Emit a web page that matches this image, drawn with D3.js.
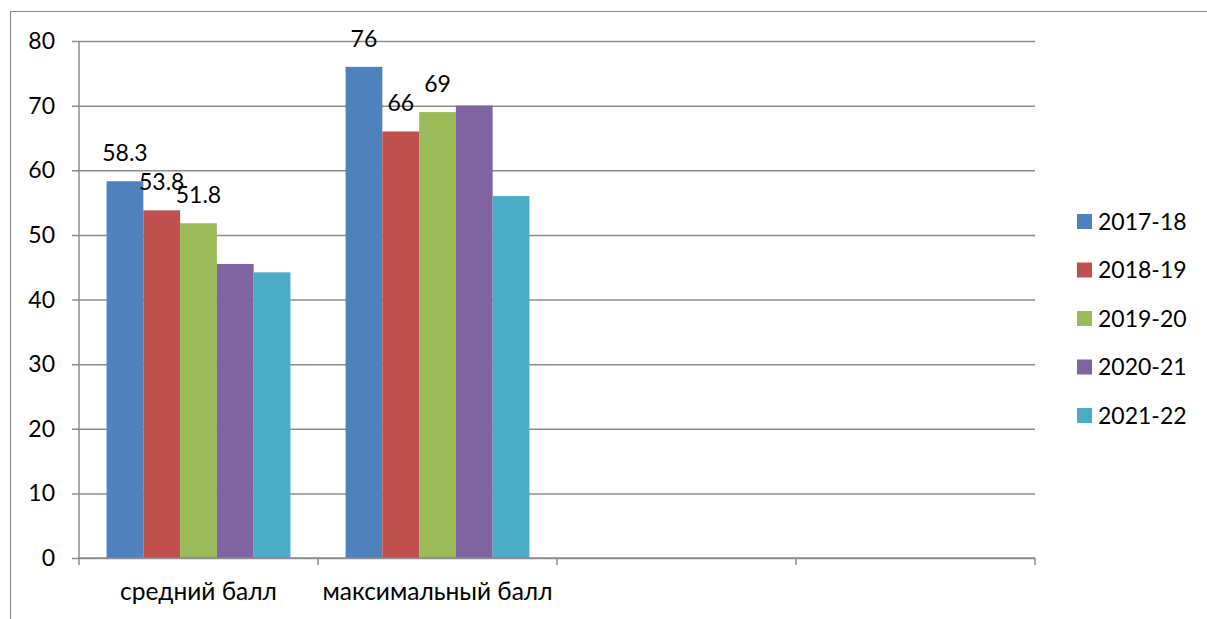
<!DOCTYPE html>
<html>
<head>
<meta charset="utf-8">
<script src="https://cdn.jsdelivr.net/npm/d3@7"></script>
<style>
  html, body { margin: 0; padding: 0; background: #fff; }
  svg { display: block; }
  text { font-family: Lato, "Open Sans", "Noto Sans", sans-serif; font-size: 23px; fill: #000; }
  text.cat { font-size: 24.5px; }
</style>
</head>
<body>
<svg id="chart" width="1207" height="619"></svg>
<script>
// ---- data ----
const categories = ["средний балл", "максимальный балл", "", ""];
const seriesNames = ["2017-18", "2018-19", "2019-20", "2020-21", "2021-22"];
const s2017 = [58.3, 76];
const s2018 = [53.8, 66];
const s2019 = [51.8, 69];
const s2020 = [45.5, 70];
const s2021 = [44.2, 56];
const seriesValues = [s2017, s2018, s2019, s2020, s2021];
const labeledSeries = ["2017-18", "2018-19", "2019-20"];
const yTicks = [0, 10, 20, 30, 40, 50, 60, 70, 80];
const colors = ["#4F81BD", "#C0504D", "#9BBB59", "#8064A2", "#4BACC6"];

// ---- layout ----
const W = 1207, H = 619;
const plot = { left: 79, right: 1035, top: 41, bottom: 558 };
const gridColor = "#8c8c8c";

const svg = d3.select("#chart");

// outer frame (partially visible)
svg.append("path")
  .attr("d", `M10.5,${H} V11.5 H${W}`)
  .attr("fill", "none").attr("stroke", "#8c8c8c").attr("stroke-width", 1.2);

const catIdx = categories.map((d, i) => i);
const x0 = d3.scaleBand().domain(catIdx).range([plot.left, plot.right]).paddingInner(0).paddingOuter(0);
const x1 = d3.scaleBand().domain(seriesNames).range([0, x0.bandwidth()]).paddingInner(0).paddingOuter(0.75);
const y = d3.scaleLinear().domain([0, 80]).range([plot.bottom, plot.top]);

// gridlines + y tick marks
const yAxis = d3.axisLeft(y).tickValues(yTicks).tickSize(-(plot.right - plot.left)).tickSizeOuter(0).tickPadding(0).tickFormat("");
const gy = svg.append("g").attr("transform", `translate(${plot.left},0)`).call(yAxis);
gy.select(".domain").remove();
gy.selectAll(".tick line").attr("stroke", gridColor).attr("stroke-width", 1.5)
  .attr("x1", -7);

// y tick labels
svg.append("g").selectAll("text").data(yTicks).join("text")
  .attr("x", 55).attr("y", d => y(d) + 8)
  .attr("text-anchor", "end")
  .text(d => d);

// bars
const groups = svg.append("g").selectAll("g").data(seriesNames).join("g")
  .attr("fill", (d, i) => colors[i]);
groups.selectAll("rect")
  .data((s, si) => seriesValues[si].map((v, ci) => ({ s, v, ci })))
  .join("rect")
  .attr("x", d => x0(d.ci) + x1(d.s))
  .attr("width", x1.bandwidth())
  .attr("y", d => y(d.v))
  .attr("height", d => y(0) - y(d.v));

// value labels
svg.append("g").selectAll("text")
  .data(seriesNames.flatMap((s, si) => labeledSeries.includes(s) ? seriesValues[si].map((v, ci) => ({ s, v, ci })) : []))
  .join("text")
  .attr("x", d => x0(d.ci) + x1(d.s) + x1.bandwidth() / 2)
  .attr("y", d => y(d.v) - 20)
  .attr("text-anchor", "middle")
  .text(d => d.v);

// x axis
const xAxisLine = svg.append("g");
xAxisLine.append("line")
  .attr("x1", plot.left).attr("x2", plot.right)
  .attr("y1", y(0)).attr("y2", y(0))
  .attr("stroke", gridColor).attr("stroke-width", 1.5);
xAxisLine.append("line")
  .attr("x1", plot.left).attr("x2", plot.left)
  .attr("y1", plot.top).attr("y2", y(0) + 7)
  .attr("stroke", gridColor).attr("stroke-width", 1.5);
const bounds = catIdx.map(i => x0(i) + x0.bandwidth());
xAxisLine.selectAll("line.tk").data(bounds).join("line").attr("class", "tk")
  .attr("x1", d => d).attr("x2", d => d)
  .attr("y1", y(0)).attr("y2", y(0) + 7)
  .attr("stroke", gridColor).attr("stroke-width", 1.5);

svg.append("g").selectAll("text").data(catIdx).join("text")
  .attr("class", "cat")
  .attr("x", i => x0(i) + x0.bandwidth() / 2)
  .attr("y", 600)
  .attr("text-anchor", "middle")
  .text(i => categories[i]);

// legend
const legendY = d3.scalePoint().domain(seriesNames).range([221.5, 415.5]);
const lg = svg.append("g").selectAll("g").data(seriesNames).join("g");
lg.append("rect")
  .attr("x", 1077).attr("y", d => legendY(d) - 7.5)
  .attr("width", 15).attr("height", 15)
  .attr("fill", (d, i) => colors[i]);
lg.append("text")
  .attr("x", 1098).attr("y", d => legendY(d) + 8)
  .text(d => d);
</script>
</body>
</html>
